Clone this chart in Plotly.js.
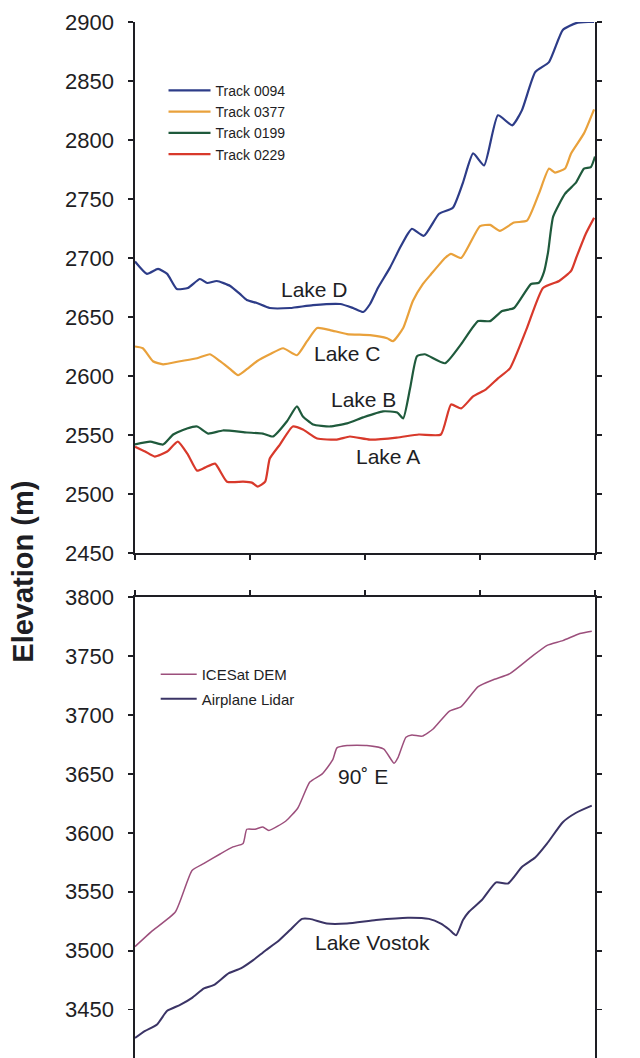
<!DOCTYPE html>
<html>
<head>
<meta charset="utf-8">
<script src="https://cdn.plot.ly/plotly-3.0.1.min.js"></script>
<style>html,body{margin:0;padding:0;background:#fff;}#chart{width:640px;height:1058px;}</style>
</head>
<body>
<div id="chart"></div>
<script>
// ---- Data (distance along track, 0..100; elevation in m) ----
var x0094 = [0, 2.6, 5.0, 7.0, 9.1, 11.5, 14.1, 15.7, 17.8, 20.7, 22.8, 24.3, 26.5, 29.3, 33.7, 38.7, 44.6, 47.4, 49.6, 51.1, 52.8, 55.4, 57.6, 59.3, 60.2, 62.8, 66.1, 69.1, 71.3, 73.5, 75.9, 78.9, 82.0, 84.1, 87.0, 90.0, 93.0, 95.9, 98.5, 99.8];
var y0094 = [2697, 2686.5, 2690.7, 2686.5, 2673.7, 2674.6, 2682.2, 2678.8, 2680.5, 2676.3, 2669.5, 2664.4, 2661.8, 2657.6, 2657.6, 2660.1, 2661, 2657.6, 2654.2, 2661, 2674.6, 2691.6, 2708.6, 2720.5, 2724.8, 2718.8, 2737.5, 2742.6, 2763.9, 2788.6, 2778.4, 2820.9, 2812.4, 2825.1, 2857.5, 2866, 2893.2, 2899, 2900, 2900];

var x0377 = [0, 1.7, 3.9, 6.1, 9.8, 13.5, 16.3, 18.5, 20.7, 22.4, 24.3, 26.5, 29.3, 32.2, 35.2, 37.4, 39.6, 42.4, 46.1, 51.1, 54.8, 56.1, 58.3, 60.4, 62.6, 64.3, 67.4, 68.7, 70.9, 75.0, 77.2, 79.3, 82.4, 85.2, 87.8, 90.0, 91.3, 93.5, 94.8, 97.6, 99.8];
var y0377 = [2625, 2623.5, 2612.5, 2609.9, 2612.5, 2615, 2618.4, 2612.5, 2605.7, 2600.6, 2605.7, 2612.5, 2618.4, 2623.5, 2617.6, 2629.5, 2640.6, 2638.9, 2635.5, 2634.6, 2632, 2629.5, 2640.6, 2663.5, 2678, 2686, 2700, 2703.5, 2700, 2727, 2728, 2723, 2730, 2731.6, 2754.5, 2775.8, 2772.4, 2775.8, 2788.6, 2805.6, 2826];

var x0199 = [0, 3.3, 6.1, 8.3, 11.3, 13.5, 15.9, 19.1, 24.3, 27.8, 30.0, 33.0, 35.2, 36.5, 38.7, 42.4, 46.1, 49.6, 53.9, 57.0, 58.3, 59.8, 61.3, 63.0, 67.4, 70.9, 74.6, 77.2, 79.8, 82.4, 86.1, 87.8, 88.9, 89.8, 90.9, 93.5, 95.9, 97.6, 99.1, 100];
var y0199 = [2542, 2544.4, 2541.9, 2550.4, 2555.5, 2557.2, 2551.2, 2553.8, 2552.1, 2551.2, 2548.7, 2561.4, 2574.2, 2565.7, 2558.9, 2557.2, 2559.8, 2564.9, 2570, 2569.1, 2564, 2589.5, 2616.7, 2618.4, 2610.8, 2627, 2646.5, 2646.5, 2655, 2657.6, 2678, 2679, 2688, 2705, 2735, 2754.5, 2764, 2775.8, 2777, 2786];

var x0229 = [0, 2.2, 4.3, 7.0, 9.3, 11.5, 13.5, 15.2, 17.4, 20.0, 23.5, 25.4, 26.7, 28.3, 29.3, 31.5, 34.3, 36.5, 39.6, 43.9, 46.7, 51.1, 56.9, 61.7, 66.5, 68.7, 70.9, 73.5, 76.3, 78.9, 81.5, 85.2, 88.7, 92.2, 94.8, 95.9, 98.0, 99.8];
var y0229 = [2540, 2536, 2531.7, 2536, 2544.4, 2533.4, 2519.8, 2522.3, 2525.7, 2510.4, 2510.4, 2509.6, 2506.2, 2510.4, 2530, 2541.9, 2557.2, 2554.6, 2547, 2546.1, 2548.7, 2546.1, 2547.8, 2550.4, 2550.4, 2575.9, 2572.5, 2582.7, 2588.7, 2598, 2606.5, 2640.6, 2674.6, 2680.5, 2689, 2700, 2720.5, 2734];

var xIce = [0, 3.5, 8.8, 12.4, 15.0, 18.5, 21.3, 23.5, 24.3, 26.1, 27.8, 29.1, 32.8, 35.4, 38.0, 40.7, 43.0, 43.9, 46.1, 50.4, 54.1, 56.3, 57.2, 58.9, 60.2, 62.4, 64.8, 68.3, 70.9, 74.6, 78.0, 81.5, 86.1, 89.6, 93.0, 96.7, 99.3];
var yIce = [3503.5, 3516, 3533, 3568, 3574, 3582, 3588, 3591, 3603, 3603, 3605, 3602, 3610, 3621, 3643, 3650, 3662, 3672, 3674, 3674, 3671, 3659, 3664, 3681, 3683, 3682, 3688, 3703, 3707, 3724, 3730, 3735, 3749, 3759, 3763, 3769, 3771];

var xLidar = [0, 2.2, 4.8, 7.0, 9.8, 12.4, 15.0, 17.2, 20.4, 23.0, 25.7, 28.3, 31.1, 33.7, 36.3, 38.0, 41.7, 46.1, 52.4, 59.3, 63.9, 66.5, 68.3, 69.8, 71.3, 72.6, 75.4, 78.5, 81.1, 84.1, 87.0, 89.6, 93.0, 95.9, 99.3];
var yLidar = [3426, 3432, 3437.5, 3449, 3454, 3460, 3468, 3471, 3481, 3485, 3492, 3500, 3508, 3517.5, 3527, 3527, 3523, 3523, 3526, 3528, 3527, 3523, 3518, 3513, 3526, 3533, 3543, 3558, 3557, 3571, 3579, 3591, 3609, 3617, 3623];

var xTicksBottom = [0, 25, 50, 75, 100];
var xTicksTop = [15, 40, 65, 90];
var yTicksTop = [2450, 2500, 2550, 2600, 2650, 2700, 2750, 2800, 2850, 2900];
var yTicksBottom = [3450, 3500, 3550, 3600, 3650, 3700, 3750, 3800];

var lakeLabels = ['Lake D', 'Lake C', 'Lake B', 'Lake A'];
var lakeX = [39.1, 46.3, 49.6, 55.0];
var lakeY = [2673, 2619, 2580, 2532];
var vostokLabels = ['90˚ E', 'Lake Vostok'];
var vostokX = [49.6, 51.7];
var vostokY = [3648, 3507];

// ---- Styles ----
var FONT = '"Liberation Sans", Arial, sans-serif';
var INK = '#1e1e24';
var line = function(c, w){ return {color: c, width: w, shape: 'spline', smoothing: 0.5}; };

var traces = [
  {x: x0094, y: y0094, name: 'Track 0094', mode: 'lines', line: line('#2d3c88', 2.2), xaxis: 'x', yaxis: 'y', legend: 'legend'},
  {x: x0377, y: y0377, name: 'Track 0377', mode: 'lines', line: line('#e9a13b', 2.2), xaxis: 'x', yaxis: 'y', legend: 'legend'},
  {x: x0199, y: y0199, name: 'Track 0199', mode: 'lines', line: line('#1f5a3c', 2.2), xaxis: 'x', yaxis: 'y', legend: 'legend'},
  {x: x0229, y: y0229, name: 'Track 0229', mode: 'lines', line: line('#d8392b', 2.2), xaxis: 'x', yaxis: 'y', legend: 'legend'},
  {x: xIce, y: yIce, name: 'ICESat DEM', mode: 'lines', line: line('#9c4f7c', 1.5), xaxis: 'x2', yaxis: 'y2', legend: 'legend2', legendgroup: 'a'},
  {x: xLidar, y: yLidar, name: 'Airplane Lidar', mode: 'lines', line: line('#3b3466', 2.0), xaxis: 'x2', yaxis: 'y2', legend: 'legend2', legendgroup: 'b'}
];

function axisBase(extra){
  var a = {showgrid: false, zeroline: false, linecolor: INK, linewidth: 1.6,
           tickcolor: INK, tickwidth: 1.6, ticklen: 5, tickmode: 'array',
           tickfont: {family: FONT, size: 22, color: INK}};
  for (var k in extra) a[k] = extra[k];
  return a;
}

var topDomain = [0.4875, 1];
var botDomain = [0, 0.445];

var annotations = [];
for (var i = 0; i < lakeLabels.length; i++) {
  annotations.push({x: lakeX[i], y: lakeY[i], xref: 'x', yref: 'y', text: lakeLabels[i], showarrow: false,
    font: {family: FONT, size: 21, color: INK}});
}
for (var j = 0; j < vostokLabels.length; j++) {
  annotations.push({x: vostokX[j], y: vostokY[j], xref: 'x2', yref: 'y2', text: vostokLabels[j], showarrow: false,
    font: {family: FONT, size: 21, color: INK}});
}
annotations.push({x: -0.243, y: 0.4696, xref: 'paper', yref: 'paper', xanchor: 'center', yanchor: 'middle',
  text: '<b>Elevation (m)</b>', textangle: -90,
  showarrow: false, font: {family: FONT, size: 29, color: INK}});

var layout = {
  width: 640, height: 1058,
  margin: {l: 135, r: 45, t: 22, b: 0},
  paper_bgcolor: '#fff', plot_bgcolor: 'rgba(0,0,0,0)',
  showlegend: true,
  // top panel
  xaxis: axisBase({domain: [0, 1], range: [0, 100], anchor: 'y', side: 'bottom', tickvals: xTicksBottom, ticks: 'outside', showline: true, showticklabels: false}),
  xaxis3: axisBase({range: [0, 100], anchor: 'y', overlaying: 'x', side: 'bottom', tickvals: xTicksBottom, ticks: 'inside', showline: false, showticklabels: false}),
  xaxis4: axisBase({range: [0, 100], anchor: 'y', overlaying: 'x', side: 'top', tickvals: xTicksTop, ticks: 'outside', showline: true, showticklabels: false}),
  xaxis5: axisBase({range: [0, 100], anchor: 'y', overlaying: 'x', side: 'top', tickvals: xTicksTop, ticks: 'inside', showline: false, showticklabels: false}),
  yaxis: axisBase({domain: topDomain, range: [2450, 2900], anchor: 'x', tickvals: yTicksTop, ticks: 'outside', showline: true, mirror: 'ticks', ticklabelstandoff: 10}),
  yaxis3: axisBase({range: [2450, 2900], anchor: 'x', overlaying: 'y', tickvals: yTicksTop, ticks: 'inside', showline: false, mirror: 'ticks', showticklabels: false}),
  // bottom panel
  xaxis2: axisBase({domain: [0, 1], range: [0, 100], anchor: 'y2', side: 'top', tickvals: xTicksBottom, ticks: 'outside', showline: true, showticklabels: false}),
  xaxis6: axisBase({range: [0, 100], anchor: 'y2', overlaying: 'x2', side: 'top', tickvals: xTicksBottom, ticks: 'inside', showline: false, showticklabels: false}),
  yaxis2: axisBase({domain: botDomain, range: [3409, 3800], anchor: 'x2', tickvals: yTicksBottom, ticks: 'outside', showline: true, mirror: 'ticks', ticklabelstandoff: 10}),
  yaxis4: axisBase({range: [3409, 3800], anchor: 'x2', overlaying: 'y2', tickvals: yTicksBottom, ticks: 'inside', showline: false, mirror: 'ticks', showticklabels: false}),
  legend: {x: 0.062, y: 0.949, xanchor: 'left', yanchor: 'top', bgcolor: 'rgba(0,0,0,0)', itemwidth: 42,
    font: {family: FONT, size: 14, color: INK}, tracegroupgap: 0},
  legend2: {x: 0.045, y: 0.386, xanchor: 'left', yanchor: 'top', bgcolor: 'rgba(0,0,0,0)', itemwidth: 36,
    font: {family: FONT, size: 15, color: INK}, tracegroupgap: 2},
  annotations: annotations
};

Plotly.newPlot('chart', traces, layout, {displayModeBar: false, staticPlot: true});
</script>
</body>
</html>
